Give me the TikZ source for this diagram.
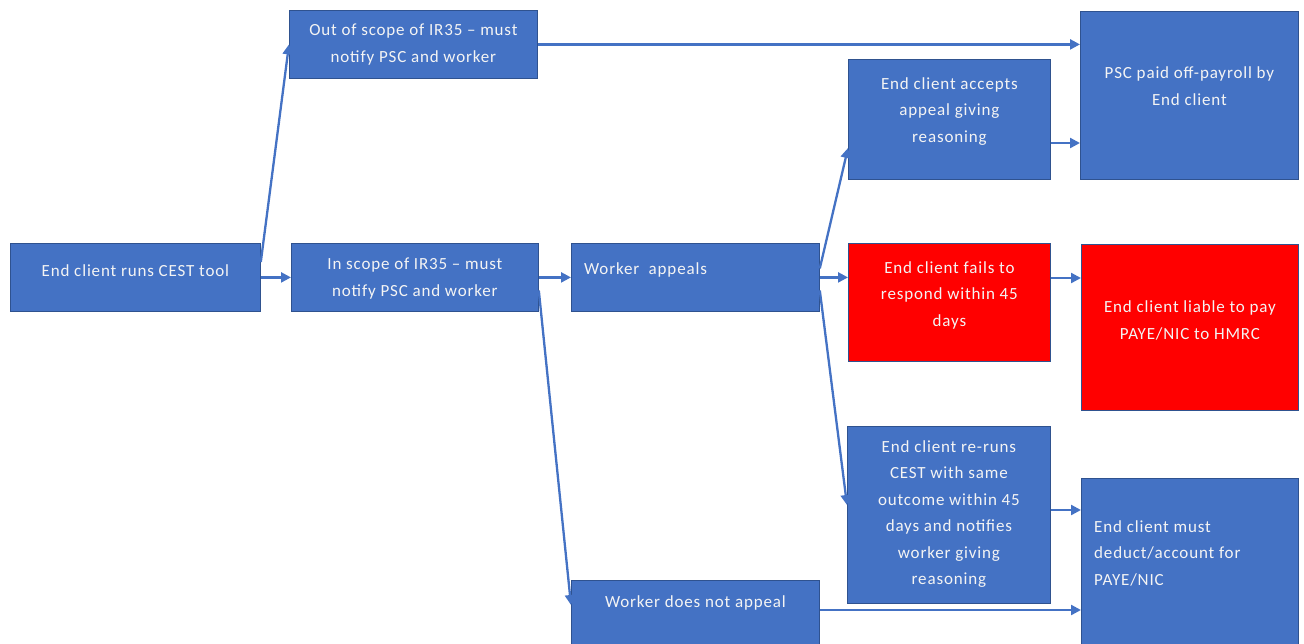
\documentclass[tikz,border=0pt]{standalone}
\usepackage{fontspec}
\setmainfont{Carlito}[LetterSpace=5]
\usetikzlibrary{arrows.meta}
\definecolor{boxblue}{HTML}{4472C4}
\definecolor{edgeblue}{HTML}{2F528F}
\definecolor{boxred}{HTML}{FF0000}
\definecolor{txtwhite}{HTML}{F4F4F4}
\tikzset{
  box/.style={draw=edgeblue, line width=0.8pt, fill=boxblue, anchor=north west, inner sep=0pt},
  redbox/.style={box, fill=boxred},
  txt/.style={text=txtwhite, font=\fontsize{17}{26.5}\selectfont, align=center, inner sep=0pt},
  arr/.style={draw=boxblue, line width=2.3pt, -{Triangle[length=10pt,width=10pt]}},
}
\begin{document}
\begin{tikzpicture}[x=1pt,y=1pt]
\useasboundingbox (0,0) rectangle (1304,-643);
\begin{scope}
\clip (0,0) rectangle (1304,-643);
\node[box, minimum width=250, minimum height=68, label={[txt,yshift=7pt]center:{End client runs CEST tool}}] (b1) at (10,-243) {};
\node[box, minimum width=248, minimum height=68, label={[txt,yshift=0pt]center:{Out of scope of IR35 – must\\notify PSC and worker}}] (b2) at (289,-10) {};
\node[box, minimum width=247, minimum height=68, label={[txt,yshift=-1pt]center:{In scope of IR35 – must\\notify PSC and worker}}] (b3) at (291,-243) {};
\node[box, minimum width=248, minimum height=68, label={[txt,anchor=west,xshift=13pt,yshift=7pt]west:{Worker\ \ appeals}}] (b4) at (571,-243) {};
\node[box, minimum width=202, minimum height=120, label={[txt,yshift=8pt]center:{End client accepts\\appeal giving\\reasoning}}] (b5) at (848,-59) {};
\node[box, minimum width=218, minimum height=168, label={[txt,yshift=9pt]center:{PSC paid off-payroll by\\End client}}] (b6) at (1080,-11) {};
\node[redbox, minimum width=202, minimum height=118, label={[txt,yshift=7pt]center:{End client fails to\\respond within 45\\days}}] (b7) at (848,-243) {};
\node[redbox, minimum width=217, minimum height=166, label={[txt,yshift=7pt]center:{End client liable to pay\\PAYE/NIC to HMRC}}] (b8) at (1081,-244) {};
\node[box, minimum width=203, minimum height=177, label={[txt,yshift=1pt]center:{End client re-runs\\CEST with same\\outcome within 45\\days and notifies\\worker giving\\reasoning}}] (b9) at (847,-426) {};
\node[box, minimum width=217, minimum height=180, label={[txt,align=left,anchor=west,xshift=13pt,yshift=15pt]west:{End client must\\deduct/account for\\PAYE/NIC}}] (b10) at (1081,-478) {};
\node[box, minimum width=248, minimum height=80, label={[txt,yshift=17pt]center:{Worker does not appeal}}] (b11) at (571,-580) {};
\end{scope}
% connectors
\draw[arr] ([yshift=-19pt]b1.north east) -- (b2.west);
\draw[arr] (b1.east) -- (b3.west);
\draw[arr] (b2.east) -- (b2.east -| b6.west);
\draw[arr] (b3.east) -- (b4.west);
\draw[arr] ([yshift=-13pt]b3.east) -- ([yshift=-25pt]b11.north west);
\draw[arr] (b4.east) -- (b4.east -| b7.west);
\draw[arr] ([yshift=9pt]b4.east) -- ([yshift=-89pt]b5.north west);
\draw[arr] ([yshift=-13pt]b4.east) -- ([yshift=-79pt]b9.north west);
\draw[arr] ([yshift=-84pt]b5.north east) -- ([yshift=-84pt]b5.north east -| b6.west);
\draw[arr] ([yshift=-35pt]b7.north east) -- ([yshift=-35pt]b7.north east -| b8.west);
\draw[arr] ([yshift=-84pt]b9.north east) -- ([yshift=-84pt]b9.north east -| b10.west);
\draw[arr] ([yshift=-30pt]b11.north east) -- ([yshift=-30pt]b11.north east -| b10.west);
\end{tikzpicture}
\end{document}
